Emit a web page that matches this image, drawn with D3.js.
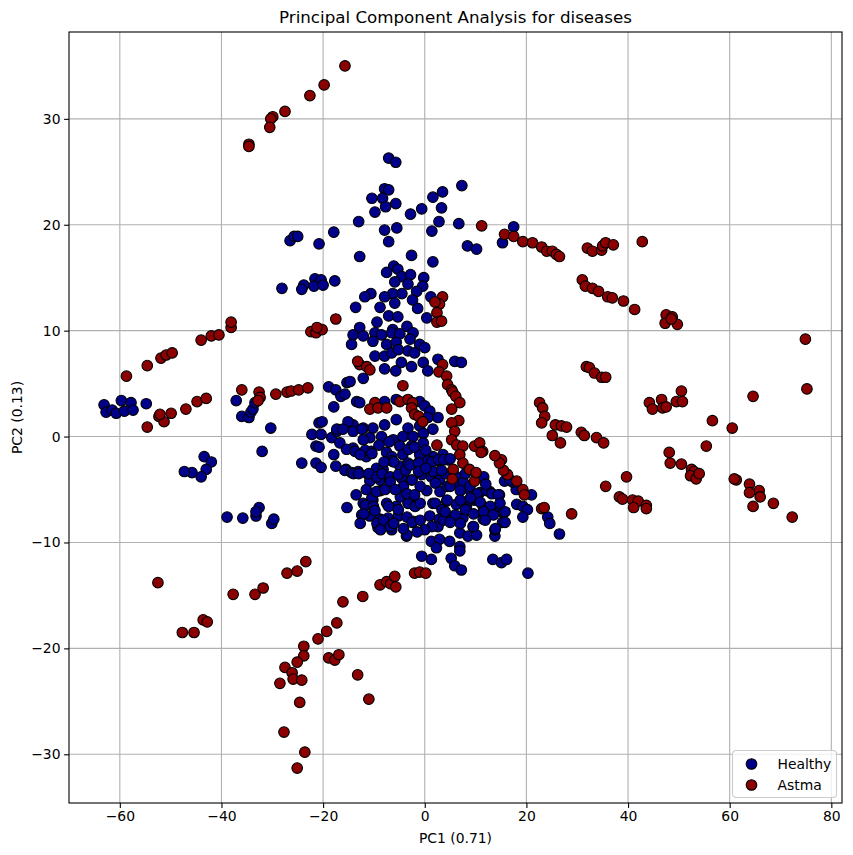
<!DOCTYPE html>
<html>
<head>
<meta charset="utf-8">
<script src="https://cdn.jsdelivr.net/npm/d3@7"></script>
<style>
  body { margin: 0; background: #fff; }
  text { font-family: "DejaVu Sans", sans-serif; fill: #000; }
</style>
</head>
<body>
<script>
// PCA scores, [PC1, PC2]
let healthyPoints = [
  [-13,20.3],[-17.9,19.3],[-20.8,18.2],[-12.8,17.0],[-26.5,18.5],[-25.7,18.9],[-25,18.9],
  [-17.7,14.7],[-21.6,14.9],[-20.4,14.8],[-23.8,14.3],[-21.8,14.2],[-20,14.3],[-28.1,14.0],[-24.2,13.9],
  [-7.1,26.3],[-5.7,25.9],[7.3,23.7],[3.5,23.1],[1.6,22.6],[3.3,21.6],[-0.6,21.5],[-2.8,21.0],
  [-7.9,23.4],[-7.1,23.3],[-10.4,22.5],[-8.3,22.5],[-7.7,21.7],[-5.7,22.0],[-9.8,21.2],[2.8,20.3],
  [6.7,20.1],[-7.9,19.5],[-5.5,19.7],[1.4,19.4],[-7.1,18.4],[8.4,18.0],[10.2,17.7],[15.3,18.3],
  [17.5,19.8],[-2.6,17.1],[1.6,16.5],
  [-6.1,16.1],[-5.3,15.8],[-7.5,15.5],[-4.5,15.1],[-2.8,15.3],[-5.9,14.6],[-3.3,14.4],[-0.2,15.0],
  [-0.4,14.2],[-1.6,13.7],[-4.5,13.5],[-6.3,13.5],[-7.9,13.2],[-10.6,13.5],[-11.8,13.2],[-13.6,12.2],
  [-8.8,12.2],[-5.9,12.6],[-7.1,11.4],[-5.3,11.3],[-1.4,12.1],[0.4,11.2],[-2.4,12.9],[1.2,13.2],
  [-3.5,10.4],[-6.3,10.1],[-9.4,10.8],[-12.8,10.3],
  [-63.1,3.0],[-62.7,2.3],[-61.5,2.5],[-60.7,2.2],[-59.7,3.4],[-57.8,3.2],[-59.1,2.4],[-57.4,2.5],[-54.8,3.1],
  [-37.1,3.4],[-36.0,1.9],[-34.6,1.8],[-34.2,2.3],[-33.8,2.6],[-33.4,3.2],[-30.3,0.8],[-32.0,-1.4],
  [-43.4,-1.9],[-42.0,-2.4],[-43.0,-3.1],[-44.0,-3.8],[-45.8,-3.4],[-47.3,-3.3],
  [-38.9,-7.6],[-35.8,-7.7],[-33.2,-7.5],[-32.6,-6.7],[-33.2,-7.1],[-30.1,-8.2],[-29.7,-7.8],
  [-18.9,4.7],[-17.5,4.4],[-16.5,3.8],[-15.3,5.1],[-17.9,2.8],[-20.8,1.3],[-20.2,1.4],[-22.2,0.2],
  [-20.4,0.2],[-18.3,-0.1],[-17.3,0.5],[-21.4,-0.9],[-20.8,-1.0],[-17.9,-1.7],[-24.2,-2.5],[-21.4,-2.5],
  [-20.4,-2.9],[-17.5,-2.8],[-15.5,-3.1],[-15.3,-6.7],
  [-14.1,9.6],[-12.1,9.5],[-9.8,9.8],[-8.5,9.6],[-6.5,9.8],[-4.9,9.7],[-2.3,9.8],[-14.4,8.7],
  [-10.2,9.0],[-7.5,8.7],[-5.6,8.9],[-2.9,9.2],[-1.0,8.7],[0.0,8.4],[-9.8,7.6],[-7.9,7.6],
  [-6.5,7.9],[-5.2,8.2],[-3.3,8.1],[-2.0,7.9],[-4.6,7.0],[-2.6,6.6],[-7.9,6.4],[-5.7,6.2],
  [-0.3,7.0],[0.6,6.2],[2.6,7.3],[5.9,7.1],[7.2,7.0],[-12.1,5.5],[-14.7,5.2],[-15.7,4.0],
  [-13.4,3.3],[-12.8,3.2],[-7.9,3.3],[-5.6,3.5],[-1.0,3.3],[0.0,2.9],[1.0,2.4],[2.6,1.8],
  [0.6,1.8],[-1.0,1.0],[-3.3,0.8],[-5.6,1.6],[-7.9,1.1],[-10.2,0.8],[-12.1,0.8],[-14.1,1.1],
  [-15.1,1.4],[-17.3,0.7],[-16.1,0.7],[-14.1,0.5],[-12.4,0.7],[-10.8,-0.1],[-8.5,0.0],[-6.2,-0.3],
  [-4.3,0.0],[-2.3,0.0],[-0.3,0.3],[1.6,0.7],[-4.9,-0.9],[-2.6,-0.9],[-0.3,-0.6],[-16.7,-0.6],
  [-12.1,-0.3],[-14.1,-1.1],[-10.5,-1.4],[-7.5,-1.5],[-15.4,-1.2],[-11.5,-1.9],[-6.5,-1.9],[-4.3,-1.7],
  [-1.0,-1.7],[1.6,-1.9],[3.6,-1.7],
  [-15.7,-3.2],[-14.4,-3.4],[-13.1,-3.3],[-11.1,-3.6],[-9.5,-3.0],[-8.2,-3.1],[-6.5,-2.3],[-4.9,-2.8],
  [-3.3,-2.5],[-1.3,-2.5],[0.6,-2.3],[2.6,-2.3],[4.6,-2.2],
  [-10.8,-4.2],[-8.8,-4.1],[-6.9,-4.2],[-4.6,-3.9],[-2.6,-4.1],[-0.6,-3.6],[1.3,-3.8],[2.9,-4.1],
  [6.9,-4.5],[8.8,-5.0],[10.8,-5.3],[12.8,-5.2],[14.7,-5.5],[18.0,-5.0],
  [-12.1,-6.3],[-10.2,-6.0],[-7.5,-6.3],[-5.6,-6.6],[-3.3,-6.3],[-1.6,-6.4],[1.6,-6.3],[4.3,-6.1],
  [6.2,-6.4],[8.2,-6.6],[9.8,-6.0],[11.5,-6.6],[13.4,-6.9],[15.4,-7.2],
  [-12.4,-7.4],[-10.8,-7.5],[-8.8,-7.8],[-7.2,-7.7],[-5.2,-7.5],[-2.3,-8.0],[1.0,-7.5],[2.9,-7.8],
  [5.6,-7.7],[7.5,-7.7],[9.5,-8.5],[11.5,-7.8],
  [-9.2,-8.6],[-6.5,-8.8],[2.6,-8.5],[6.9,-9.1],[8.5,-9.4],[10.2,-9.3],[13.8,-9.4],[-3.6,-9.4],
  [1.3,-9.9],[2.9,-9.7],[4.9,-9.9],[2.3,-10.5],[6.9,-10.4],[6.9,-10.8],[-0.6,-11.3],[1.3,-11.6],
  [5.2,-11.5],[5.9,-12.2],[7.2,-12.6],[13.4,-11.6],[15.1,-11.9],[16.1,-11.6],[20.3,-12.9],
  [15.7,-4.2],[17.3,-4.3],[21.0,-5.5],[18.1,-6.4],[19.3,-6.6],[20.2,-6.9],[19.3,-7.6],[24.2,-7.6],
  [24.6,-8.2],[26.5,-9.2],[13.8,-8.8],[15.3,-8.1],
  // extra points in the dense core
  [-13.7,-1.4],[-11.7,-1.3],[-10.4,-1.6],[-12.7,-1.7],[-14.0,-3.5],[-13.0,-3.5],[-11.0,-3.5],[-9.4,-3.8],
  [-8.4,-3.5],[-6.8,-3.8],[-6.1,-2.4],[-5.2,-3.6],[-3.8,-3.2],[-2.9,-2.7],[-1.2,-2.5],[-2.5,-4.1],
  [-4.2,-4.7],[-6.8,-4.3],[-8.7,-5.1],[-10.4,-5.8],[-11.7,-6.5],[-10.1,-6.6],[-12.0,-7.3],[-12.7,-8.2],
  [-9.4,-8.2],[-8.1,-7.9],[-6.8,-8.5],[-7.1,-6.6],[-5.2,-6.9],[-3.5,-7.6],[-1.9,-6.6],[-0.9,-6.3],
  [-2.5,-8.1],[-0.9,-7.9],[-3.5,-9.3],[-6.1,-8.2],[-8.7,-8.8],[1.4,-2.4],[2.7,-2.2],[1.7,-3.3],
  [2.1,-4.4],[3.0,-5.2],[4.4,-4.7],[2.1,-6.3],[3.4,-6.9],[3.7,-7.9],[1.4,-8.5],[-4.8,-5.7],
  [-3.5,-5.4],[0.4,-5.1],[-0.9,-4.7],
  [3.7,-2.2],[5.0,-2.1],[4.0,-3.5],[6.3,-3.8],[7.6,-4.3],[5.0,-4.7],[7.0,-5.1],[8.9,-4.7],
  [10.3,-3.9],[11.6,-3.8],[10.3,-5.4],[12.2,-5.1],[13.2,-5.4],[14.5,-5.5],[14.8,-6.3],[12.9,-6.6],
  [10.9,-6.2],[8.9,-6.0],[7.0,-6.0],[4.4,-6.0],[4.0,-7.1],[6.0,-7.4],[8.0,-6.9],[9.6,-7.3],
  [11.6,-7.1],[13.5,-7.4],[15.8,-7.1],[15.8,-8.1],[13.9,-8.7],[11.9,-7.9],[9.6,-8.5],[7.0,-8.2],
  [5.0,-8.1],[16.8,-4.1],
  [-9.5,-5.2],[-7.8,-5.0],[-5.8,-5.0],[-2.0,-5.5],[-1.2,-3.3],[0.2,-3.0],[-3.2,-1.2],[-8.0,-2.4],
  [-13.5,-5.5],[-11.5,-5.0],[-9.8,-7.0],[-4.2,-8.7],[0.0,-8.8],[-1.5,-9.0],[3.3,-3.2],[8.0,-3.5],
  [12.0,-4.5],[9.0,-5.8],[0.2,-1.3],[-2.0,-1.0],[-9.0,-0.8],[-7.0,-0.5]
]

let astmaPoints = [
  [-15.7,35.0],[-19.8,33.2],[-22.6,32.2],[-27.5,30.7],[-29.9,30.2],[-30.3,30.0],[-30.5,29.2],[-34.6,27.6],[-34.6,27.4],
  [11.2,19.9],[15.7,19.1],[17.5,18.9],[19.3,18.4],[21.2,18.3],[23.0,17.9],[24.0,17.5],[25.1,17.5],[25.9,17.2],[26.5,17.0],
  [3.5,13.2],[2.9,12.5],[2.0,12.7],[2.4,11.7],[2.4,10.8],[3.3,10.9],
  [32.0,17.8],[33.0,17.5],[34.8,17.6],[35.0,18.0],[35.6,18.3],[37.1,18.1],[42.8,18.4],
  [31.0,14.8],[31.6,14.2],[33.0,14.0],[34.2,13.7],[36.0,13.2],[36.9,13.1],[39.1,12.8],[41.3,12.0],
  [47.5,11.5],[48.7,11.3],[47.3,10.7],[49.7,10.6],[48.5,11.1],
  [74.9,9.2],[75.2,4.5],[64.6,3.8],
  [31.8,6.6],[32.4,6.5],[33.4,6.0],[34.8,5.6],[35.6,5.6],
  [44.2,3.2],[44.8,2.6],[46.6,3.5],[46.8,2.7],[47.5,2.8],[49.5,3.3],[50.5,4.3],[50.7,3.3],
  [56.6,1.5],[60.5,0.8],
  [22.6,3.2],[23.2,2.7],[23.6,1.9],[23.0,1.3],[25.7,1.1],[26.9,1.0],[27.9,0.9],[25.1,0.1],
  [26.7,-0.6],[30.8,0.4],[31.4,0.1],[33.8,-0.1],[35.2,-0.6],[55.4,-0.9],
  [48.1,-1.5],[48.3,-2.5],[50.5,-2.6],[52.5,-3.1],[53.0,-3.3],[52.3,-3.7],[53.4,-4.0],[54.0,-3.5],
  [61.3,-4.1],[60.9,-4.0],[63.9,-4.5],[65.8,-5.1],[63.9,-5.3],[66.0,-5.7],[64.6,-6.6],[68.6,-6.3],[72.3,-7.6],
  [39.7,-3.8],[35.6,-4.7],[38.3,-5.7],[38.9,-5.9],[40.9,-6.0],[42.0,-6.1],[41.1,-6.7],[43.6,-6.5],[43.6,-6.8],
  [28.9,-7.3],[23.0,-6.8],[23.5,-6.7],
  [19.3,-5.0],[19.6,-5.5],[18.1,-4.2],[16.3,-3.6],[15.5,-3.2],[15.1,-2.2],[14.7,-2.5],
  [-12.8,6.8],[-11.4,6.6],[-10.8,6.3],[-13.2,7.1],[-4.3,4.8],
  [-9.8,3.2],[-10.8,2.6],[-9.2,2.7],[-7.5,2.7],[-4.9,3.3],[-3.3,3.5],[-2.4,3.2],[-2.6,2.7],
  [-2.0,2.1],[-1.2,1.9],[-0.4,1.4],
  [3.5,6.8],[2.8,6.1],[4.3,5.7],[4.5,4.9],[5.3,4.4],[5.5,4.2],[6.1,3.8],[6.9,3.2],[5.3,2.6],
  [6.7,1.5],[5.3,1.3],[5.9,0.5],[5.3,-0.3],[6.3,-0.8],[7.5,-0.9],[9.8,-0.9],[10.8,-0.6],[11.4,-1.4],
  [13.8,-1.8],[2.4,-0.8],
  [5.6,-3.1],[5.4,-4.0],[6.9,-1.7],[7.5,-2.5],[9.8,-4.2],[8.8,-3.1],[10.1,-3.4],[11.1,-1.5],
  [-58.7,5.7],[-54.6,6.7],[-51.9,7.4],[-50.9,7.7],[-49.7,7.9],[-44.0,9.1],[-42.0,9.5],[-40.5,9.6],
  [-38.1,10.3],[-38.1,10.8],
  [-54.6,0.9],[-52.3,1.9],[-51.3,1.4],[-49.9,2.2],[-47.0,2.6],[-44.8,3.3],[-43.0,3.6],[-52.1,2.1],
  [-36.0,4.4],[-32.6,4.2],[-32.4,3.7],[-32.8,3.4],[-29.3,4.0],[-27.1,4.2],[-26.3,4.3],[-24.8,4.4],[-23.0,4.6],
  [-17.5,11.1],[-22.4,9.9],[-21.4,9.8],[-20.2,10.1],[-21.2,10.3],
  [-52.5,-13.8],[-47.7,-18.5],[-45.4,-18.5],[-43.6,-17.3],[-42.8,-17.5],[-37.7,-14.9],[-33.4,-14.9],
  [-31.8,-14.3],[-27.1,-12.9],[-25.1,-12.7],[-23.4,-11.8],
  [-16.1,-15.6],[-12.2,-15.1],[-8.8,-14.0],[-7.5,-13.7],[-6.7,-13.9],[-5.9,-13.2],[-5.7,-14.2],
  [-2.0,-12.9],[-1.0,-12.8],[0.2,-12.9],
  [-17.3,-17.6],[-19.3,-18.4],[-21.0,-19.1],[-23.8,-19.8],[-23.8,-20.7],[-25.1,-21.3],[-27.5,-21.8],
  [-26.1,-22.3],[-25.9,-22.9],[-24.2,-23.0],[-28.5,-23.3],[-24.6,-25.1],[-27.7,-27.9],[-23.6,-29.8],[-25.1,-31.3],
  [-18.9,-20.9],[-17.7,-21.1],[-16.9,-20.6],[-13.2,-22.5],[-11.0,-24.8]
]

let groupNames = ['Healthy', 'Astma']
let groupColors = ['#00008b', '#8b0000']
let xTicks = [-60, -40, -20, 0, 20, 40, 60, 80]
let yTicks = [-30, -20, -10, 0, 10, 20, 30]

function drawPca() {
  let width = 853, height = 855
  let margin = { left: 69, right: 11, top: 32, bottom: 52 }
  let plotW = width - margin.left - margin.right
  let plotH = height - margin.top - margin.bottom

  let svg = d3.select('body').append('svg')
    .attr('width', width)
    .attr('height', height)

  let x = d3.scaleLinear().domain([-70, 82.1]).range([0, plotW])
  let y = d3.scaleLinear().domain([-34.6, 38.2]).range([plotH, 0])

  let g = svg.append('g')
    .attr('transform', `translate(${margin.left},${margin.top})`)

  // grid
  g.append('g').selectAll('line')
    .data(xTicks)
    .enter().append('line')
    .attr('x1', d => x(d)).attr('x2', d => x(d))
    .attr('y1', 0).attr('y2', plotH)
    .attr('stroke', '#b0b0b0').attr('stroke-width', 1.1)
  g.append('g').selectAll('line')
    .data(yTicks)
    .enter().append('line')
    .attr('y1', d => y(d)).attr('y2', d => y(d))
    .attr('x1', 0).attr('x2', plotW)
    .attr('stroke', '#b0b0b0').attr('stroke-width', 1.1)

  // points, healthy first so astma sits on top
  let groups = [healthyPoints, astmaPoints]
  groups.forEach((pts, i) => {
    g.append('g').selectAll('circle')
      .data(pts)
      .enter().append('circle')
      .attr('cx', d => x(d[0]))
      .attr('cy', d => y(d[1]))
      .attr('r', 5.3)
      .attr('fill', groupColors[i])
      .attr('stroke', '#000')
      .attr('stroke-width', 1.1)
  })

  // axes
  let xAxis = g.append('g')
    .attr('transform', `translate(0,${plotH})`)
    .call(d3.axisBottom(x).tickValues(xTicks).tickSize(4.9).tickPadding(3.6).tickSizeOuter(0))
  let yAxis = g.append('g')
    .call(d3.axisLeft(y).tickValues(yTicks).tickSize(4.9).tickPadding(3.6).tickSizeOuter(0))
  ;[xAxis, yAxis].forEach(ax => {
    ax.select('.domain').remove()
    ax.selectAll('line').attr('stroke', '#000').attr('stroke-width', 1.1)
    ax.selectAll('text').attr('font-size', '13.9px').attr('font-family', '"DejaVu Sans", sans-serif').attr('fill', '#000')
  })

  // frame
  g.append('rect')
    .attr('width', plotW).attr('height', plotH)
    .attr('fill', 'none').attr('stroke', '#000').attr('stroke-width', 1.1)

  // labels
  svg.append('text')
    .attr('x', margin.left + plotW / 2).attr('y', 23)
    .attr('text-anchor', 'middle').attr('font-size', '16.7px')
    .text('Principal Component Analysis for diseases')
  svg.append('text')
    .attr('x', margin.left + plotW / 2).attr('y', 843)
    .attr('text-anchor', 'middle').attr('font-size', '13.9px')
    .text('PC1 (0.71)')
  svg.append('text')
    .attr('transform', `translate(22,${margin.top + plotH / 2}) rotate(-90)`)
    .attr('text-anchor', 'middle').attr('font-size', '13.9px')
    .text('PC2 (0.13)')

  // legend
  let legend = g.append('g')
    .attr('transform', `translate(${plotW - 5.5 - 104},${plotH - 5.5 - 47})`)
  legend.append('rect')
    .attr('width', 104).attr('height', 47)
    .attr('rx', 3.5)
    .attr('fill', '#fff').attr('fill-opacity', 0.8)
    .attr('stroke', '#cccccc').attr('stroke-width', 1.1)
  groupNames.forEach((name, i) => {
    let row = legend.append('g').attr('transform', `translate(0,${13.5 + i * 21})`)
    row.append('circle')
      .attr('cx', 19).attr('cy', 0).attr('r', 5.3)
      .attr('fill', groupColors[i]).attr('stroke', '#000').attr('stroke-width', 1.1)
    row.append('text')
      .attr('x', 45).attr('y', 0).attr('dy', '0.35em')
      .attr('font-size', '13.9px')
      .text(name)
  })
}

drawPca()
</script>
</body>
</html>
